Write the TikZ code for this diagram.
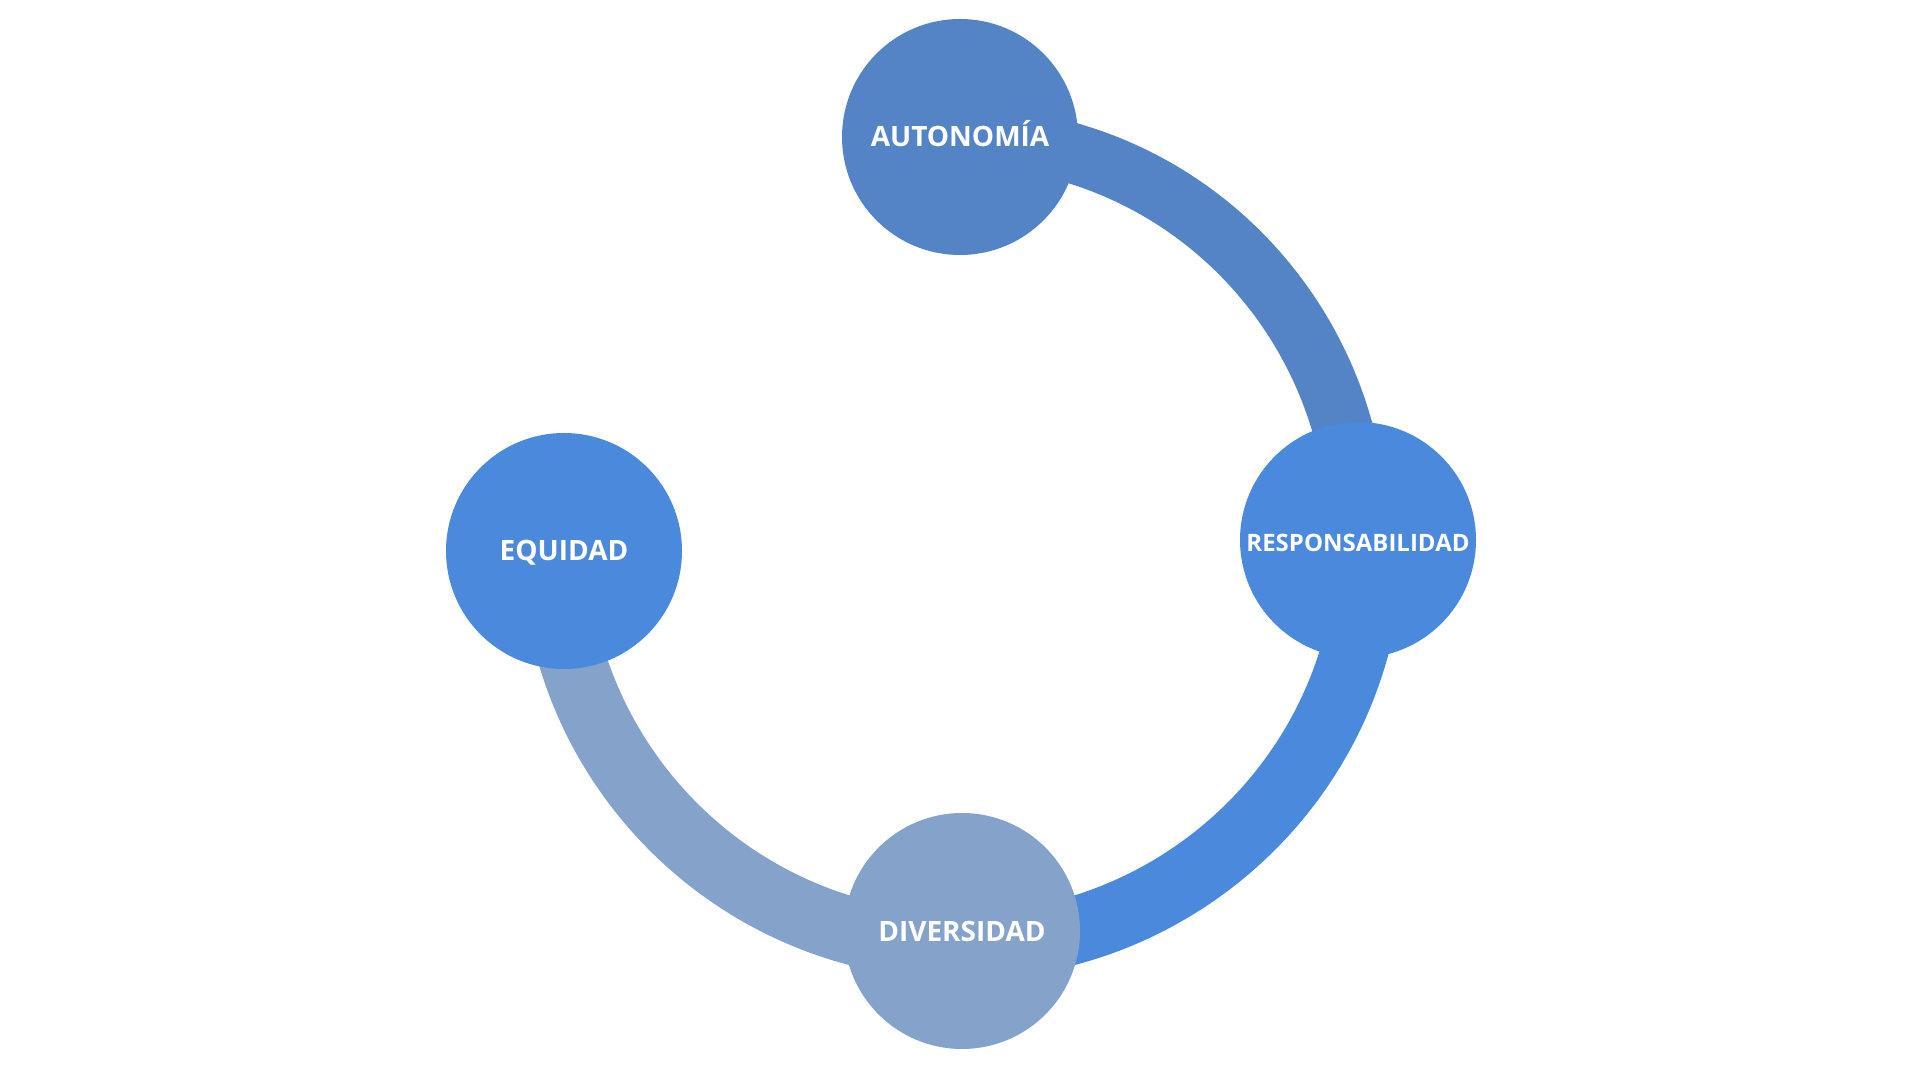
\documentclass[tikz,border=0pt]{standalone}
\usepackage{fontspec}
\setmainfont{Open Sans}
\usepackage{tikz}
\usetikzlibrary{positioning, calc, backgrounds}
\definecolor{autblue}{HTML}{5484C6}
\definecolor{resblue}{HTML}{4A89DC}
\definecolor{divblue}{HTML}{85A2CA}

\begin{document}
\begin{tikzpicture}[x=1pt, y=1pt]
	\tikzstyle{valuecircle}=[circle, minimum size=236pt, inner sep=0pt, text=white, text height=20pt, text depth=0pt, font=\bfseries\fontsize{28}{34}\selectfont]
	\tikzstyle{cyclearc}=[line width=67pt]
	
	\useasboundingbox (0,0) rectangle (1920,1080);
	
	\node (aut) at (960,943) [valuecircle, fill=autblue] {AUTONOMÍA};
	\node (res) at (1358,540) [valuecircle, fill=resblue, text height=24pt, font=\bfseries\fontsize{24}{29}\selectfont] {RESPONSABILIDAD};
	\node (div) at (962,149) [valuecircle, fill=divblue] {DIVERSIDAD};
	\node (equ) at (564,529) [valuecircle, fill=resblue] {EQUIDAD};
	
	\begin{scope}[on background layer]
		\draw [cyclearc, line width=60pt, autblue] (aut.center) to[out=0, in=90] (res.center);
		\draw [cyclearc, resblue] ([xshift=12pt]res.center) to[out=-90, in=0] ([yshift=-15pt]div.center);
		\draw [cyclearc, divblue] ([yshift=-15pt]div.center) to[out=180, in=-90] ([xshift=-10pt, yshift=13pt]equ.center);
	\end{scope}
	
	%% no arc between EQUIDAD and AUTONOMIA
\end{tikzpicture}
\end{document}
